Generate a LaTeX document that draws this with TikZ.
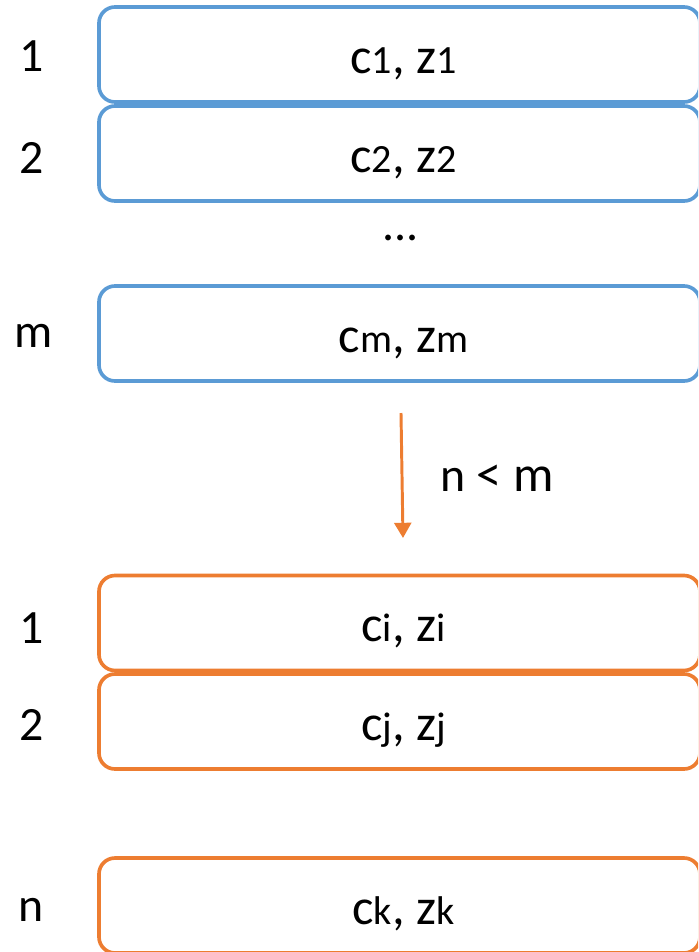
\documentclass[tikz,border=0pt]{standalone}
\usepackage{fontspec}
\setmainfont{Carlito}
\usetikzlibrary{arrows.meta}
\definecolor{azul}{HTML}{5B9BD5}
\definecolor{laranja}{HTML}{ED7D31}
\newcommand{\indice}[1]{{\fontsize{28.5}{32}\selectfont #1}}
\begin{document}
\begin{tikzpicture}[
    caixa/.style={draw=#1, line width=2.6pt, rounded corners=0.4cm,
      minimum width=15.025cm, minimum height=2.375cm, inner sep=0pt},
    par/.style={anchor=base, font=\fontsize{36}{40}\selectfont},
    rotulo/.style={font=\fontsize{34}{40}\selectfont},
  ]
  \useasboundingbox (0,0) rectangle (17.45,-23.8);
  \clip (0,0) rectangle (17.45,-23.8);

  % antes: m pares
  \node[caixa=azul] (b1) at (9.9875,-1.3625) {};
  \node[caixa=azul] (b2) at (9.9875,-3.8375) {};
  \node[caixa=azul] (bm) at (9.9875,-8.3375) {};
  \node[par] (t1) at ([xshift=0.1cm,yshift=-0.47cm]b1.center) {c\indice{1}, z\indice{1}};
  \node[par] (t2) at ([xshift=0.1cm,yshift=-0.47cm]b2.center) {c\indice{2}, z\indice{2}};
  \node[par] (tm) at ([xshift=0.1cm,yshift=-0.47cm]bm.center) {c\indice{m}, z\indice{m}};
  \node[rotulo] (pontos) at (10.025,-5.95) {...};

  \node[rotulo] (l1) at (0.78,-1.4) {1};
  \node[rotulo] (l2) at (0.78,-3.95) {2};
  \node[rotulo] (lm) at (0.85,-8.4) {m};

  % reducao
  \coordinate (de) at (10.025,-10.325);
  \coordinate (para) at (10.075,-13.45);
  \draw[laranja, line width=2.1pt, -{Triangle[width=0.42cm,length=0.38cm]}] (de) -- (para);
  \node[rotulo] (cond) at (12.425,-11.95) {n \fontsize{36}{40}\selectfont< m};

  % depois: n pares
  \node[caixa=laranja] (o1) at (9.9875,-15.575) {};
  \node[caixa=laranja] (o2) at (9.9875,-18.0375) {};
  \node[caixa=laranja] (on) at (9.9875,-22.6375) {};
  \node[par] (ti) at ([xshift=0.1cm,yshift=-0.47cm]o1.center) {c\indice{i}, z\indice{i}};
  \node[par] (tj) at ([xshift=0.1cm,yshift=-0.47cm]o2.center) {c\indice{j}, z\indice{j}};
  \node[par] (tk) at ([xshift=0.1cm,yshift=-0.47cm]on.center) {c\indice{k}, z\indice{k}};

  \node[rotulo] (m1) at (0.78,-15.7) {1};
  \node[rotulo] (m2) at (0.78,-18.125) {2};
  \node[rotulo] (mn) at (0.78,-22.75) {n};
\end{tikzpicture}
\end{document}
